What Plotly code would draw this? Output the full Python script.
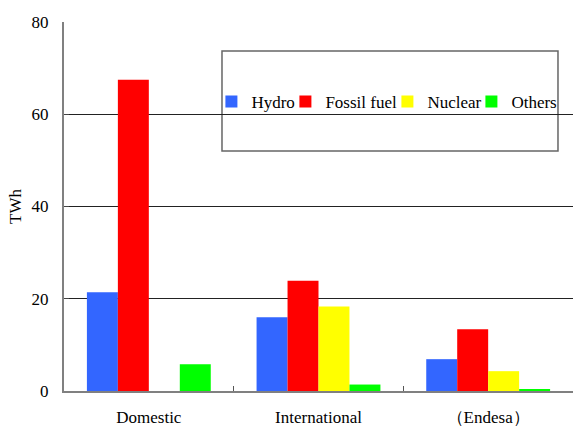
import plotly.graph_objects as go

categories = ["Domestic", "International", "（Endesa）"]
hydro = [21.4, 16.0, 6.9]
fossil = [67.5, 23.9, 13.4]
nuclear = [0, 18.3, 4.3]
others = [5.8, 1.4, 0.4]

series_names = ["Hydro", "Fossil fuel", "Nuclear", "Others"]
series_values = [hydro, fossil, nuclear, others]
colors = ["#3366FF", "#FF0000", "#FFFF00", "#00FF00"]
legend_widths = [29, 57, 39, 47]

FONT = "Liberation Serif"

fig = go.Figure()
for name, vals, col, lw in zip(series_names, series_values, colors, legend_widths):
    fig.add_trace(go.Bar(x=categories, y=vals, name=name, marker=dict(color=col, line=dict(width=0)),
                         legendwidth=lw))

fig.update_layout(
    width=574, height=426,
    margin=dict(l=64, r=1, t=22, b=35, autoexpand=False),
    paper_bgcolor="white", plot_bgcolor="white",
    font=dict(family=FONT, size=17, color="black"),
    barmode="group", bargap=0.27, bargroupgap=0,
    showlegend=True,
    legend=dict(orientation="h", x=0.2896, xanchor="left", y=0.783, yanchor="middle",
                bgcolor="rgba(0,0,0,0)", borderwidth=0, font=dict(family=FONT, size=17),
                itemwidth=30, tracegroupgap=0),
    xaxis=dict(showline=True, linecolor="#808080", linewidth=2, tickson="boundaries",
               ticks="inside", ticklen=5, tickcolor="#555", showgrid=False, automargin=False,
               ticklabelstandoff=10, tickfont=dict(family=FONT, size=17)),
    yaxis=dict(range=[0, 80], dtick=20, showline=True, linecolor="#808080", linewidth=2,
               showgrid=True, gridcolor="#222", gridwidth=1, zeroline=False, automargin=False,
               ticks="inside", ticklen=5, tickcolor="#444", ticklabelstandoff=10,
               tickfont=dict(family=FONT, size=17),
               title=dict(text="TWh", font=dict(family=FONT, size=17), standoff=6)),
    shapes=[dict(type="rect", xref="paper", yref="paper", x0=0.3104, x1=0.9705, y0=0.6504, y1=0.9214,
                 line=dict(color="#666", width=1.5), fillcolor="white", layer="between")],
)

fig.write_html("out.html")
